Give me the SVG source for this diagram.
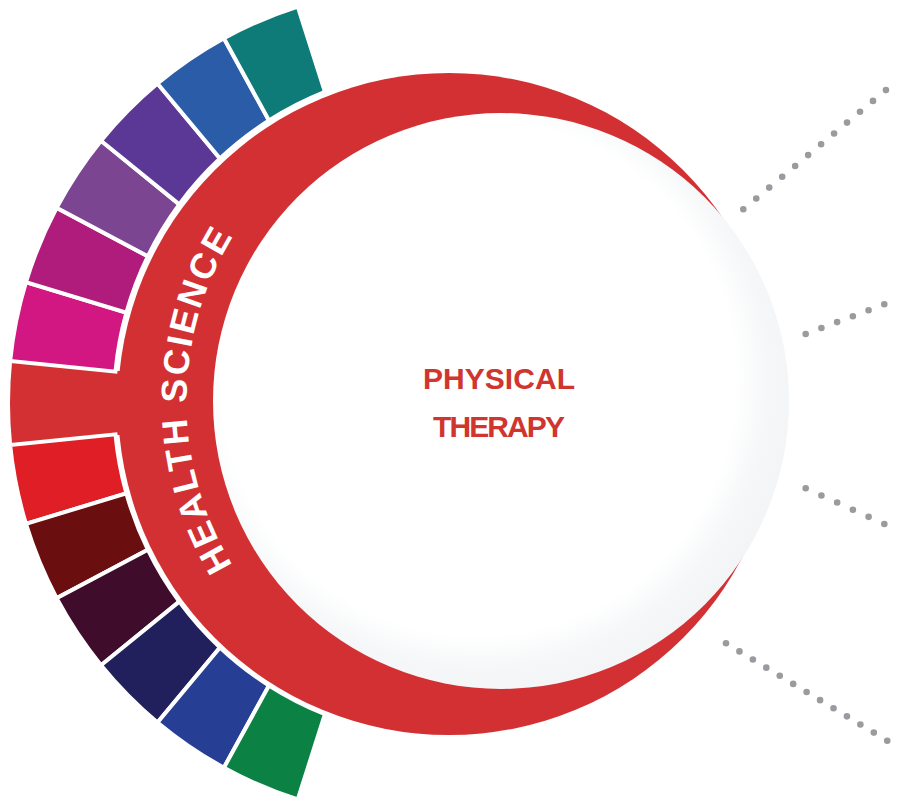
<svg xmlns="http://www.w3.org/2000/svg" width="900" height="802" viewBox="0 0 900 802">
<defs>
<radialGradient id="lens" cx="0.46" cy="0.46" r="0.56">
<stop offset="0" stop-color="#ffffff"/>
<stop offset="0.8" stop-color="#ffffff"/>
<stop offset="0.9" stop-color="#f5f7f8"/>
<stop offset="1" stop-color="#f2f4f6"/>
</radialGradient>
<path id="arcText" d="M232.8 565.3 A314.5 314.5 0 0 1 253.2 207.4"/>
</defs>
<style>
.seg{stroke:#ffffff;stroke-width:4;stroke-linejoin:miter}
.dots{fill:none;stroke:#9a9b9f;stroke-width:6.6;stroke-linecap:round}
.title{font-family:"Liberation Sans",Arial,sans-serif;font-weight:bold;font-size:30px;fill:#d0352e}
.ring-label{font-family:"Liberation Sans",Arial,sans-serif;font-weight:bold;font-size:36px;fill:#ffffff;letter-spacing:2.5px}
</style>
<rect width="900" height="802" fill="#ffffff"/>
<g id="ring">
<circle cx="449" cy="404" r="331" fill="#d33033"/>
<path d="M130 372 L12.12 361.16 A414 414 0 0 0 12.12 444.84 L130 434 Z" fill="#d33033"/>
</g>
<g id="segments">
<g id="seg-pink"><path class="seg" fill="#d21782" d="M126.42 312.65 A335 335 0 0 0 115.47 371.66 L10.13 360.96 A416 416 0 0 1 25.95 282.14 Z"/></g>
<g id="seg-magenta"><path class="seg" fill="#b01c7b" d="M147.84 256.29 A335 335 0 0 0 126.42 312.65 L25.95 282.14 A416 416 0 0 1 56.63 207.83 Z"/></g>
<g id="seg-violet"><path class="seg" fill="#7b4591" d="M179.27 204.33 A335 335 0 0 0 147.84 256.29 L56.63 207.83 A416 416 0 0 1 101.03 140.81 Z"/></g>
<g id="seg-purple"><path class="seg" fill="#5b3896" d="M220 158.5 A335 335 0 0 0 179.27 204.33 L101.03 140.81 A416 416 0 0 1 157.49 83.58 Z"/></g>
<g id="seg-blue"><path class="seg" fill="#2a5ca8" d="M269 120.46 A335 335 0 0 0 220 158.5 L157.49 83.58 A416 416 0 0 1 223.91 38.28 Z"/></g>
<g id="seg-teal"><path class="seg" fill="#0e7b78" d="M324.93 91.81 A335 335 0 0 0 269 120.46 L223.91 38.28 A416 416 0 0 1 297.79 6.6 Z"/></g>
<g id="seg-red"><path class="seg" fill="#e01e26" d="M126.42 493.35 A335 335 0 0 1 115.47 434.34 L10.13 445.04 A416 416 0 0 0 25.95 523.86 Z"/></g>
<g id="seg-darkred"><path class="seg" fill="#6b0e10" d="M147.84 549.71 A335 335 0 0 1 126.42 493.35 L25.95 523.86 A416 416 0 0 0 56.63 598.17 Z"/></g>
<g id="seg-darkpurple"><path class="seg" fill="#400c2b" d="M179.27 601.67 A335 335 0 0 1 147.84 549.71 L56.63 598.17 A416 416 0 0 0 101.03 665.19 Z"/></g>
<g id="seg-navy"><path class="seg" fill="#22205c" d="M220 647.5 A335 335 0 0 1 179.27 601.67 L101.03 665.19 A416 416 0 0 0 157.49 722.42 Z"/></g>
<g id="seg-blue2"><path class="seg" fill="#263f94" d="M269 685.54 A335 335 0 0 1 220 647.5 L157.49 722.42 A416 416 0 0 0 223.91 767.72 Z"/></g>
<g id="seg-green"><path class="seg" fill="#0b8244" d="M324.93 714.19 A335 335 0 0 1 269 685.54 L223.91 767.72 A416 416 0 0 0 297.79 799.4 Z"/></g>
</g>
<g id="ring-label">
<text class="ring-label"><textPath href="#arcText">HEALTH SCIENCE</textPath></text>
</g>
<g id="center-node">
<circle cx="501" cy="401" r="288" fill="url(#lens)"/>
<text class="title" x="499" y="388.5" text-anchor="middle" textLength="152">PHYSICAL</text>
<text class="title" x="499" y="436.7" text-anchor="middle" textLength="132">THERAPY</text>
</g>
<g id="connectors">
<line class="dots" x1="743.3" y1="209.3" x2="886.4" y2="89.7" stroke-dasharray="0 16.9"/>
<line class="dots" x1="805.7" y1="334" x2="884.8" y2="304.1" stroke-dasharray="0 16.8"/>
<line class="dots" x1="805.7" y1="488.3" x2="884.8" y2="524.2" stroke-dasharray="0 17.27"/>
<line class="dots" x1="726" y1="643.3" x2="887.7" y2="741" stroke-dasharray="0 15.7"/>
</g>
</svg>
